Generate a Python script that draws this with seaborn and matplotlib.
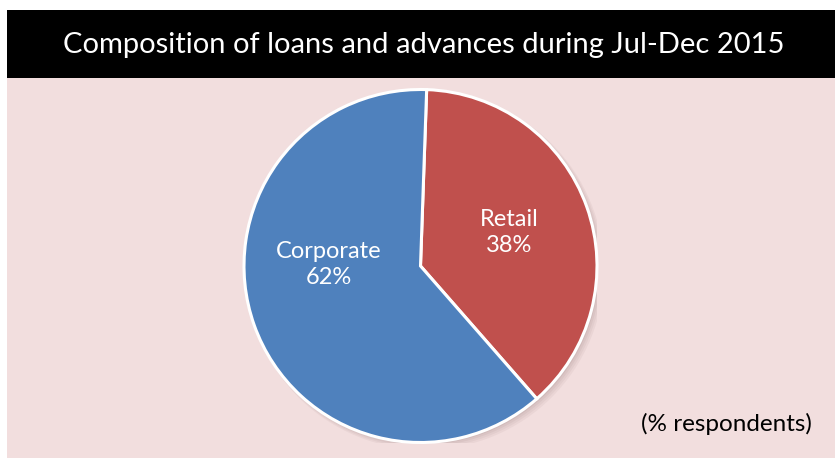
import matplotlib
matplotlib.use("Agg")
import matplotlib.pyplot as plt
from matplotlib.patches import Rectangle, Circle
import seaborn as sns

# Loan portfolio composition
categories = ["Retail", "Corporate"]
shares = [38, 62]
title_text = "Composition of loans and advances during Jul-Dec 2015"
note_text = "(% respondents)"

sns.set_theme(style="white")
plt.rcParams["font.family"] = ["Lato", "DejaVu Sans"]

colors = ["#C0504D", "#4F81BD"]
W, H = 835, 458
fig = plt.figure(figsize=(W / 100, H / 100), dpi=100)
fig.patch.set_facecolor("white")

def fx(px):
    return px / W

def fy(py):
    return 1 - py / H

# Panel background and title bar
fig.patches.append(Rectangle((fx(7), 0), 1 - fx(7), fy(78), transform=fig.transFigure,
                             facecolor="#F2DEDE", edgecolor="none", zorder=-2))
fig.patches.append(Rectangle((fx(7), fy(78)), 1 - fx(7), fy(10) - fy(78), transform=fig.transFigure,
                             facecolor="black", edgecolor="none", zorder=-2))
fig.text(fx(424), fy(45), title_text, color="white", fontsize=21,
         ha="center", va="center")

# Pie axes
cx, cy, r = 420.5, 266, 176.5
ax = fig.add_axes([fx(cx - r), fy(cy + r), 2 * r / W, 2 * r / H])
ax.set_zorder(1)
ax.patch.set_visible(False)

# Soft drop shadow
for i, a in enumerate([0.05, 0.05, 0.06, 0.07]):
    off = 0.026 - i * 0.005
    ax.add_patch(Circle((off, -off), 1.0 + 0.005 * (3 - i), color="#5a3a3a", alpha=a,
                        lw=0, zorder=0))

wedges, _ = ax.pie(shares, colors=colors, startangle=88, counterclock=False,
                   radius=1.0, wedgeprops=dict(edgecolor="white", linewidth=2.2))
for w in wedges:
    w.set_zorder(2)

ax.set_xlim(-1, 1)
ax.set_ylim(-1, 1)
ax.set_aspect("equal")
ax.axis("off")

ax.text(0.50, 0.19, f"{categories[0]}\n{shares[0]}%", color="white", fontsize=17,
        ha="center", va="center", linespacing=1.3, zorder=3)
ax.text(-0.52, 0.01, f"{categories[1]}\n{shares[1]}%", color="white", fontsize=17,
        ha="center", va="center", linespacing=1.3, zorder=3)

fig.text(fx(726), fy(424), note_text, color="black", fontsize=17.5,
         ha="center", va="center")

fig.savefig("out.png", dpi=100, facecolor=fig.get_facecolor())
